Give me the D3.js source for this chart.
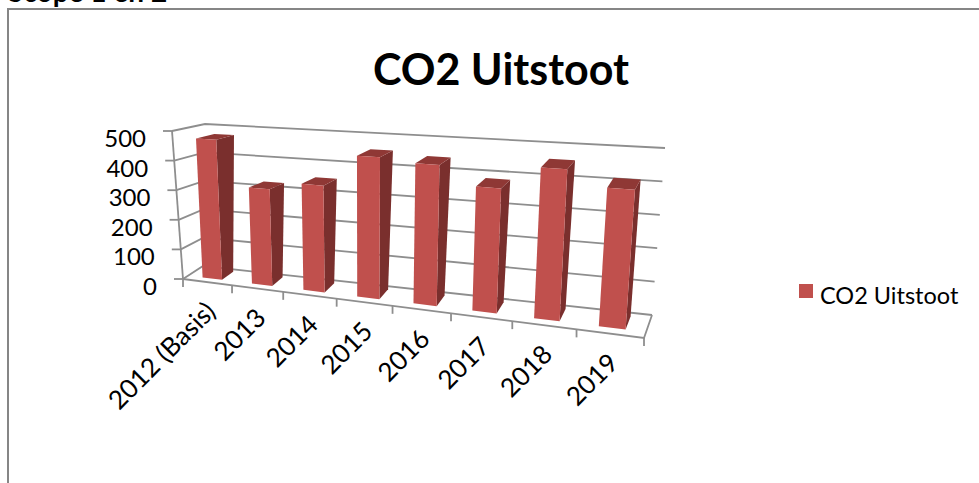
<!DOCTYPE html>
<html>
<head>
<meta charset="utf-8">
<script src="https://cdn.jsdelivr.net/npm/d3@7"></script>
<style>
  html, body { margin: 0; padding: 0; background: #fff; overflow: hidden; }
  text { font-family: Lato, "Open Sans", sans-serif; fill: #000; }
</style>
</head>
<body>
<div id="chart"></div>
<script>
var categories = ["2012 (Basis)", "2013", "2014", "2015", "2016", "2017", "2018", "2019"];
var co2Values = [472, 320, 347, 452, 441, 383, 456, 410];
var valueTicks = [0, 100, 200, 300, 400, 500];
var seriesName = "CO2 Uitstoot";

var width = 979;
var height = 483;

// corners of the 3d box as seen in the picture: front/back, bottom/top, left/right
var corners = {
  fbl: [183, 279], fbr: [644, 338], ftl: [172, 131], ftr: [656, 165],
  bbl: [203, 266], bbr: [652, 315], btl: [205, 124], btr: [665, 148]
};
var perspective = 1.2;
var barDepth = [0.26, 0.84];

var xBand = d3.scaleBand().domain(categories).range([0, 1]).paddingInner(0.6).paddingOuter(0.3);
var xStep = d3.scaleBand().domain(categories).range([0, 1]);
var yValue = d3.scaleLinear().domain([0, 500]).range([0, 1]);

function warp(u) {
  return u / (u + perspective * (1 - u));
}

function mix(a, b, t) {
  return [a[0] + (b[0] - a[0]) * t, a[1] + (b[1] - a[1]) * t];
}

// u along the categories, d into the depth, value up the wall
function project(u, d, value) {
  var w = warp(u);
  var h = yValue(value);
  var front = mix(mix(corners.fbl, corners.fbr, w), mix(corners.ftl, corners.ftr, w), h);
  var back = mix(mix(corners.bbl, corners.bbr, w), mix(corners.btl, corners.btr, w), h);
  return mix(front, back, d);
}

var svg = d3.select("#chart").append("svg")
  .attr("width", width)
  .attr("height", height)
  .style("display", "block");

// page behind the chart
svg.append("text")
  .attr("x", 8).attr("y", 2)
  .attr("font-size", "28px").attr("font-weight", "bold")
  .text("Scope 1 en 2");

svg.append("path")
  .attr("d", "M8,483V9H979")
  .attr("fill", "none")
  .attr("stroke", "#868686")
  .attr("stroke-width", 2);

svg.append("text")
  .attr("x", 501).attr("y", 85)
  .attr("text-anchor", "middle")
  .attr("font-size", "43px").attr("font-weight", "bold")
  .text(seriesName);

var line = d3.line();
var grid = svg.append("g")
  .attr("fill", "none")
  .attr("stroke", "#8e8e8e")
  .attr("stroke-width", 1.8);

// gridlines on left wall and back wall
valueTicks.forEach(function (t) {
  grid.append("path").attr("d", line([project(0, 0, t), project(0, 1, t), project(1, 1, t)]));
  var p = project(0, 0, t);
  grid.append("path").attr("d", line([[p[0] - 9, p[1]], p]));
});

// axis edges and floor
grid.append("path").attr("d", line([project(0, 0, 0), project(0, 0, 500)]));
grid.append("path").attr("d", line([project(0, 0, 0), project(1, 0, 0), project(1, 1, 0)]));

// category ticks
d3.range(categories.length + 1).forEach(function (i) {
  var p = project(i / categories.length, 0, 0);
  grid.append("path").attr("d", line([p, [p[0], p[1] + 8]]));
});

svg.append("g").selectAll("text")
  .data(valueTicks)
  .join("text")
  .attr("x", function (d) { return project(0, 0, d)[0] - 26; })
  .attr("y", function (d) { return project(0, 0, d)[1] + 16; })
  .attr("text-anchor", "end")
  .attr("font-size", "24px")
  .text(function (d) { return d; });

svg.append("g").selectAll("text")
  .data(categories)
  .join("text")
  .attr("transform", function (d) {
    var p = project(xStep(d) + xStep.bandwidth() / 2, 0, 0);
    return "translate(" + (p[0] + 10) + "," + (p[1] + 31) + ") rotate(-45)";
  })
  .attr("text-anchor", "end")
  .attr("font-size", "26px")
  .text(function (d) { return d; });

var bars = svg.append("g").selectAll("g")
  .data(categories)
  .join("g");

function face(pts) {
  return line(pts) + "Z";
}

// right side of the bar
bars.append("path")
  .attr("fill", "#7a2f2d")
  .attr("d", function (d, i) {
    var u = xBand(d) + xBand.bandwidth();
    return face([project(u, barDepth[0], 0), project(u, barDepth[1], 0),
      project(u, barDepth[1], co2Values[i]), project(u, barDepth[0], co2Values[i])]);
  });

// top of the bar
bars.append("path")
  .attr("fill", "#8f3835")
  .attr("d", function (d, i) {
    var u0 = xBand(d), u1 = u0 + xBand.bandwidth(), v = co2Values[i];
    return face([project(u0, barDepth[0], v), project(u1, barDepth[0], v),
      project(u1, barDepth[1], v), project(u0, barDepth[1], v)]);
  });

// front of the bar
bars.append("path")
  .attr("fill", "#c0504d")
  .attr("d", function (d, i) {
    var u0 = xBand(d), u1 = u0 + xBand.bandwidth(), v = co2Values[i];
    return face([project(u0, barDepth[0], 0), project(u1, barDepth[0], 0),
      project(u1, barDepth[0], v), project(u0, barDepth[0], v)]);
  });

// legend
svg.append("rect")
  .attr("x", 799).attr("y", 284)
  .attr("width", 14).attr("height", 14)
  .attr("fill", "#c0504d");

svg.append("text")
  .attr("x", 820).attr("y", 304)
  .attr("font-size", "23.5px")
  .text(seriesName);
</script>
</body>
</html>
